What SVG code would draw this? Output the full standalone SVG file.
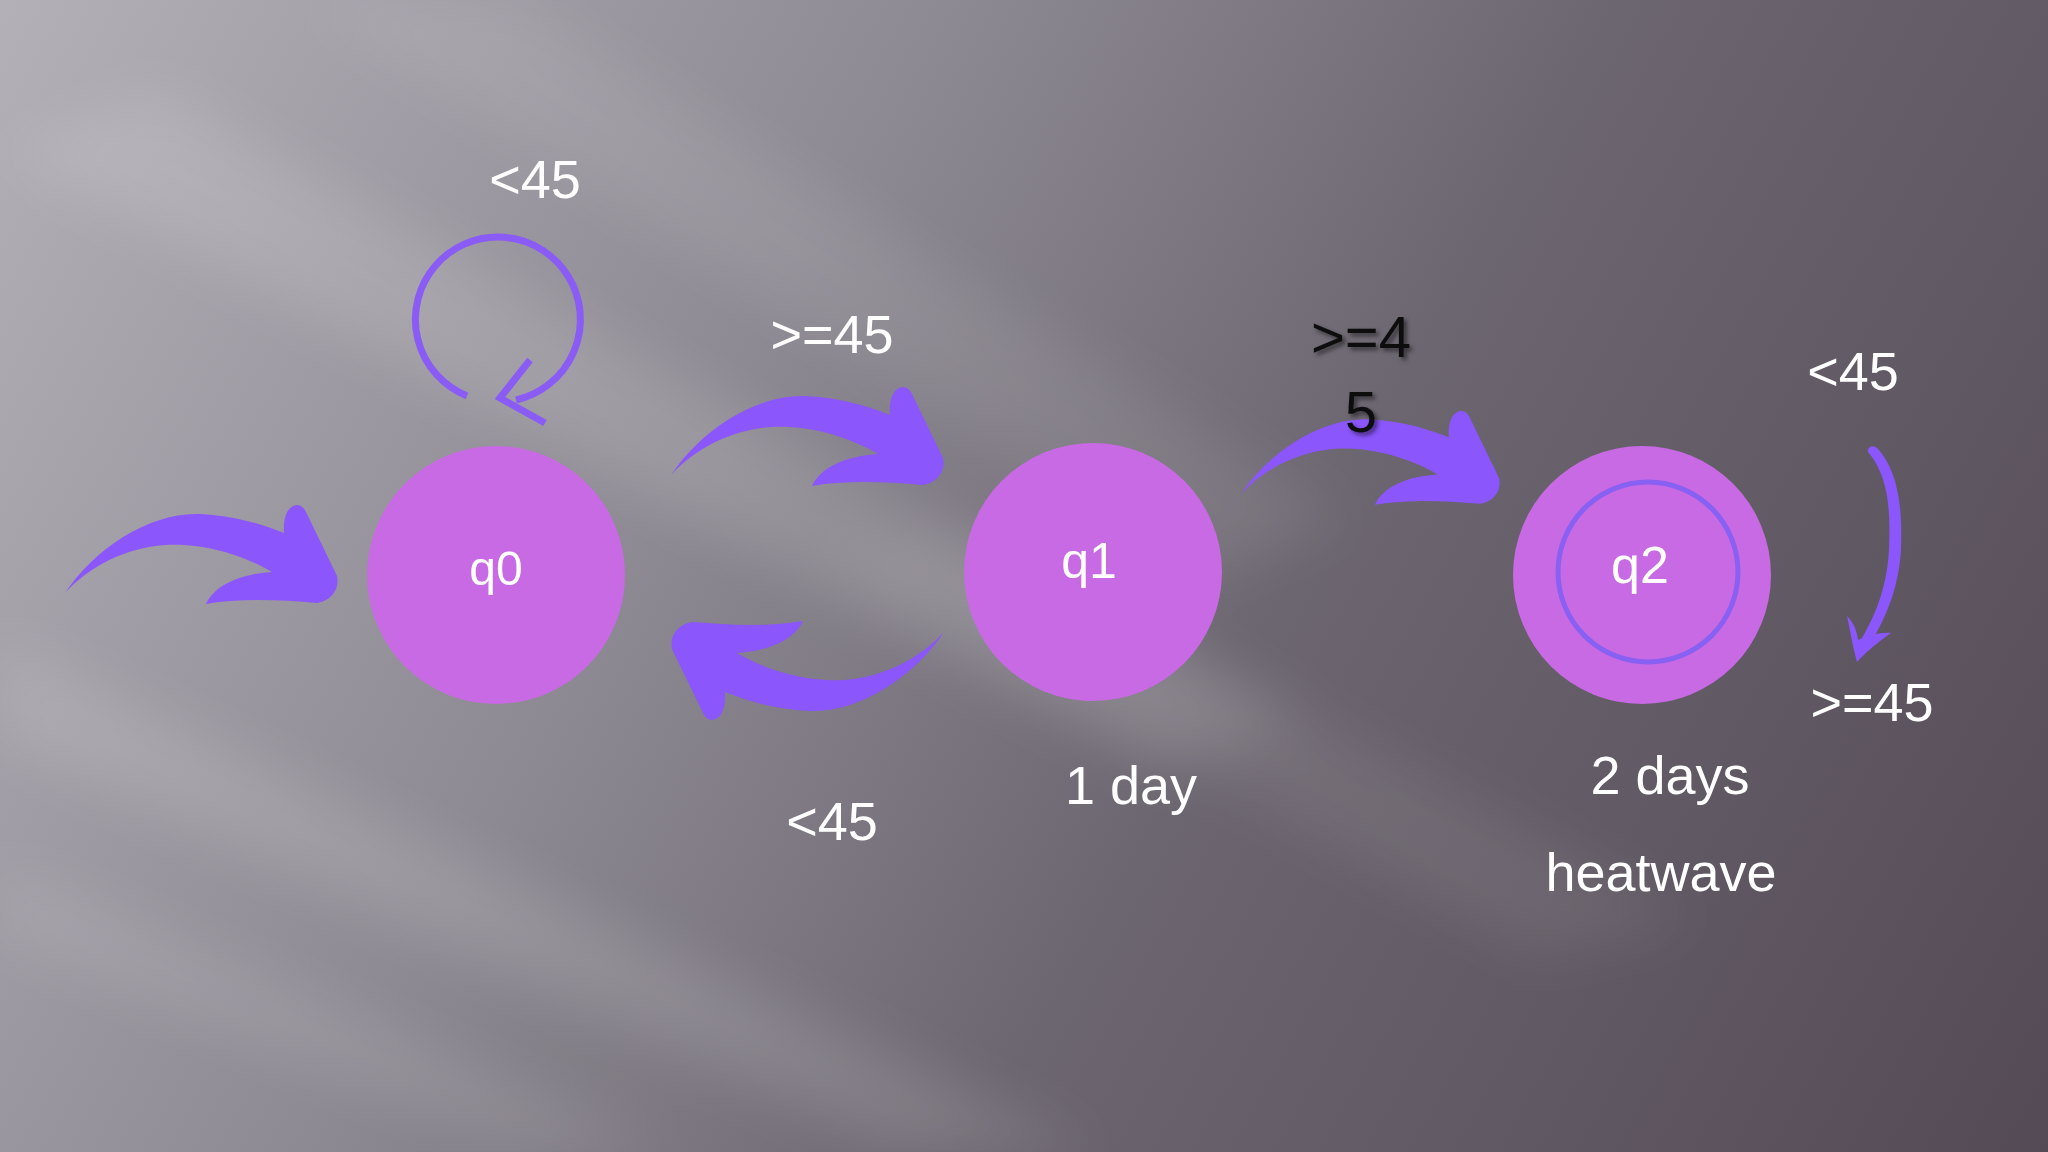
<svg xmlns="http://www.w3.org/2000/svg" width="2048" height="1152" viewBox="0 0 2048 1152">
  <defs>
    <linearGradient id="bg" x1="0" y1="0" x2="2048" y2="1152" gradientUnits="userSpaceOnUse">
      <stop offset="0" stop-color="#b4b0b8"/>
      <stop offset="0.35" stop-color="#8e8a93"/>
      <stop offset="0.6" stop-color="#6c6670"/>
      <stop offset="1" stop-color="#544a55"/>
    </linearGradient>
    <filter id="blur" x="-20%" y="-20%" width="140%" height="140%">
      <feGaussianBlur stdDeviation="28"/>
    </filter>
    <filter id="shadow" x="-20%" y="-20%" width="140%" height="140%">
      <feDropShadow dx="3" dy="3" stdDeviation="2" flood-color="#000" flood-opacity="0.5"/>
    </filter>
    <path id="carrow" d="M65,593 C95,548 150,512 200,514 C235,516 262,524 284,533 C283,518 287,506 297,505 C301,505 304,508 306,512 L337,576 C340,590 330,601 317,603 C280,600 240,598 206,604 C215,585 240,574 272,572 C240,553 200,543 165,545 C125,548 90,566 65,593 Z"/>
    <style>
      .node { fill: #c86ae4; }
      .lbl { font-family: "Liberation Sans", Arial, sans-serif; fill: #ffffff; text-anchor: middle; }
      .blk { font-family: "Liberation Sans", Arial, sans-serif; fill: #111111; text-anchor: middle; }
      .arw { fill: #8b56fb; }
      .ln { fill: none; stroke: #8a5cf5; stroke-width: 7; }
    </style>
  </defs>

  <!-- background -->
  <rect x="0" y="0" width="2048" height="1152" fill="url(#bg)"/>
  <g filter="url(#blur)" fill="#ffffff">
    <polygon points="0,150 160,90 1300,720 1160,770" opacity="0.12"/>
    <polygon points="300,0 520,0 1350,520 1200,580" opacity="0.08"/>
    <polygon points="0,640 0,740 900,1152 1100,1152" opacity="0.12"/>
    <polygon points="0,860 0,940 520,1152 680,1152" opacity="0.09"/>
    <polygon points="820,560 960,530 1700,920 1540,960" opacity="0.07"/>
  </g>

  <!-- nodes -->
  <g id="q0">
    <circle class="node" cx="496" cy="575" r="129"/>
    <text class="lbl" x="496" y="585" font-size="48">q0</text>
  </g>
  <g id="q1">
    <circle class="node" cx="1093" cy="572" r="129"/>
    <text class="lbl" x="1089" y="578" font-size="50">q1</text>
    <text class="lbl" x="1131" y="804" font-size="54">1 day</text>
  </g>
  <g id="q2">
    <circle class="node" cx="1642" cy="575" r="129"/>
    <circle cx="1648" cy="572" r="90" fill="none" stroke="#8860f2" stroke-width="5"/>
    <text class="lbl" x="1640" y="583" font-size="52">q2</text>
    <text class="lbl" x="1670" y="794" font-size="54">2 days</text>
    <text class="lbl" x="1661" y="891" font-size="54">heatwave</text>
  </g>

  <!-- connectors -->
  <g id="connectors">
    <use href="#carrow" class="arw"/>
    <use href="#carrow" class="arw" transform="translate(606,-118)"/>
    <use href="#carrow" class="arw" transform="translate(1179,-69) scale(0.95)"/>
    <use href="#carrow" class="arw" transform="translate(1009,1225) rotate(180)"/>
    <!-- self loop on q0 -->
    <path class="ln" d="M467,396 A82.5,82.5 0 1 1 516,400"/>
    <path class="ln" d="M530,360 L500,398 L545,423"/>
    <!-- self loop on q2 -->
    <path class="arw" d="M1868,452 C1888,475 1891,510 1889,550 C1887,585 1877,612 1862,638 L1872,641 C1888,613 1899,585 1901,550 C1903,505 1897,470 1878,449 C1874,444 1867,446 1868,452 Z"/>
    <path class="arw" d="M1847,616 C1853,622 1857,630 1858,640 C1868,636 1880,632 1891,633 C1878,642 1866,652 1857,662 C1853,648 1850,630 1847,616 Z"/>
  </g>

  <!-- edge labels -->
  <g id="labels">
    <text class="lbl" x="535" y="198" font-size="54">&lt;45</text>
    <text class="lbl" x="832" y="353" font-size="54">&gt;=45</text>
    <text class="lbl" x="832" y="840" font-size="54">&lt;45</text>
    <text class="blk" x="1361" y="357" font-size="58" filter="url(#shadow)">&gt;=4</text>
    <text class="blk" x="1361" y="432" font-size="58" filter="url(#shadow)">5</text>
    <text class="lbl" x="1853" y="390" font-size="54">&lt;45</text>
    <text class="lbl" x="1872" y="721" font-size="54">&gt;=45</text>
  </g>
</svg>
